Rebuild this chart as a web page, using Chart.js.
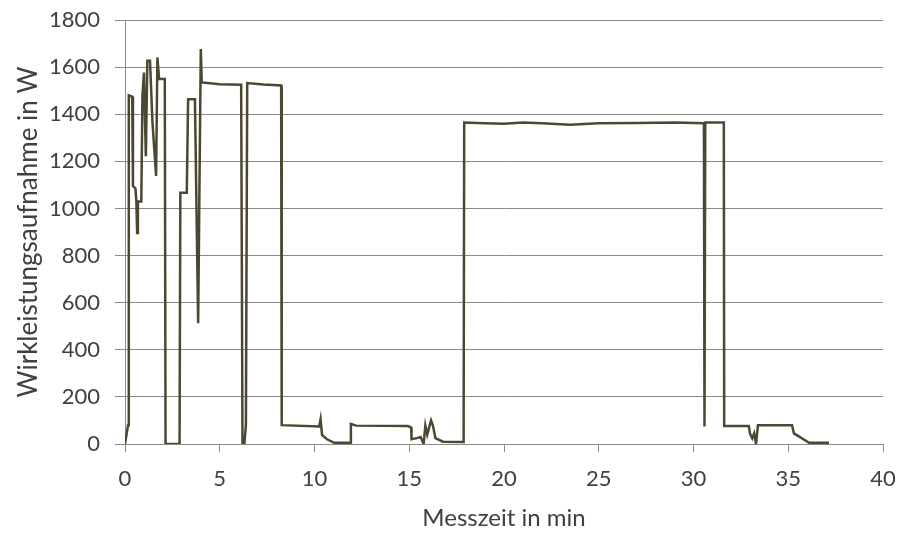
<!DOCTYPE html>
<html>
<head>
<meta charset="utf-8">
<script src="https://cdn.jsdelivr.net/npm/chart.js@4"></script>
<style>
  html, body { margin: 0; padding: 0; background: #fff; }
  #wrap { width: 899px; height: 533px; }
</style>
</head>
<body>
<div id="wrap"><canvas id="chart" width="899" height="533"></canvas></div>
<script>
// Messzeit (min) und Wirkleistung (W)
const timeMin = [
  0, 0.16, 0.2, 0.38, 0.42, 0.55, 0.6, 0.64, 0.68, 0.86,
  0.92, 1.0, 1.1, 1.18, 1.32, 1.45, 1.64, 1.71, 1.8, 2.1,
  2.14, 2.86, 2.88, 2.92, 3.26, 3.33, 3.69, 3.86, 4.0, 4.05,
  5.0, 6.13, 6.2, 6.3, 6.38, 6.45, 7.3, 8.24, 8.27, 10.25,
  10.32, 10.4, 10.66, 11.05, 11.9, 11.92, 12.2, 14.93, 15.1, 15.12,
  15.4, 15.6, 15.76, 15.85, 15.95, 16.15, 16.25, 16.38, 16.78, 17.84,
  17.87, 17.9, 19.0, 20.0, 21.0, 22.0, 23.5, 25.0, 27.0, 29.0,
  30.55, 30.58, 30.62, 31.6, 31.62, 32.92, 32.98, 33.1, 33.2, 33.3,
  33.4, 35.2, 35.3, 35.6, 35.8, 36.1, 37.15
];
const powerW = [
  0, 80, 1480, 1475, 1095, 1085, 1030, 896, 1030, 1030,
  1478, 1577, 1222, 1627, 1627, 1365, 1138, 1641, 1549, 1549,
  0, 0, 20, 1067, 1067, 1464, 1464, 513, 1677, 1535,
  1527, 1525, 0, 0, 80, 1532, 1526, 1522, 80, 74,
  105, 38, 20, 5, 5, 85, 78, 76, 70, 20,
  25, 30, 0, 78, 40, 100, 78, 25, 10, 8,
  78, 1365, 1362, 1360, 1365, 1362, 1355, 1362, 1363, 1365,
  1362, 74, 1365, 1365, 76, 76, 45, 24, 45, 0,
  80, 80, 45, 30, 20, 5, 5
];
const xTicks = [0, 5, 10, 15, 20, 25, 30, 35, 40];
const yTicks = [0, 200, 400, 600, 800, 1000, 1200, 1400, 1600, 1800];

const textColor = '#404040';
const gridColor = '#8a8a8a';
const fontFamily = "Lato, sans-serif";

const points = timeMin.map((t, i) => ({ x: t, y: powerW[i] }));

new Chart(document.getElementById('chart'), {
  type: 'scatter',
  data: {
    datasets: [{
      data: points,
      showLine: true,
      borderColor: '#4d4731',
      borderWidth: 2.5,
      pointRadius: 0,
      tension: 0
    }]
  },
  options: {
    responsive: false,
    animation: false,
    plugins: { legend: { display: false }, tooltip: { enabled: false } },
    layout: { padding: { left: 0, right: 16, top: 20, bottom: 0 } },
    scales: {
      x: {
        type: 'linear',
        min: 0,
        max: 40,
        afterBuildTicks: (scale) => { scale.ticks = xTicks.map(v => ({ value: v })); },
        afterFit: (scale) => {
          // fixed plot box like the original
          scale.height = 89;
          scale.paddingLeft = 0;
          scale.paddingRight = 0;
        },
        ticks: {
          color: textColor,
          font: { family: fontFamily, size: 22 },
          padding: 14,
          maxRotation: 0,
          callback: (v) => String(v)
        },
        grid: { drawOnChartArea: false, drawTicks: true, tickLength: 8, color: gridColor },
        border: { display: true, color: gridColor },
        title: {
          display: true,
          text: 'Messzeit in min',
          color: textColor,
          font: { family: fontFamily, size: 24 },
          padding: { top: 0, bottom: 0 }
        }
      },
      y: {
        min: 0,
        max: 1800,
        afterBuildTicks: (scale) => { scale.ticks = yTicks.map(v => ({ value: v })); },
        afterFit: (scale) => {
          scale.width = 125;
          scale.paddingTop = 0;
          scale.paddingBottom = 0;
        },
        ticks: {
          color: textColor,
          font: { family: fontFamily, size: 22 },
          padding: 15,
          callback: (v) => String(v)
        },
        grid: { color: gridColor, tickLength: 10 },
        border: { display: true, color: gridColor },
        title: {
          display: true,
          text: 'Wirkleistungsaufnahme in W',
          color: textColor,
          font: { family: fontFamily, size: 26 },
          padding: { top: 13, bottom: 0 }
        }
      }
    }
  }
});
</script>
</body>
</html>
